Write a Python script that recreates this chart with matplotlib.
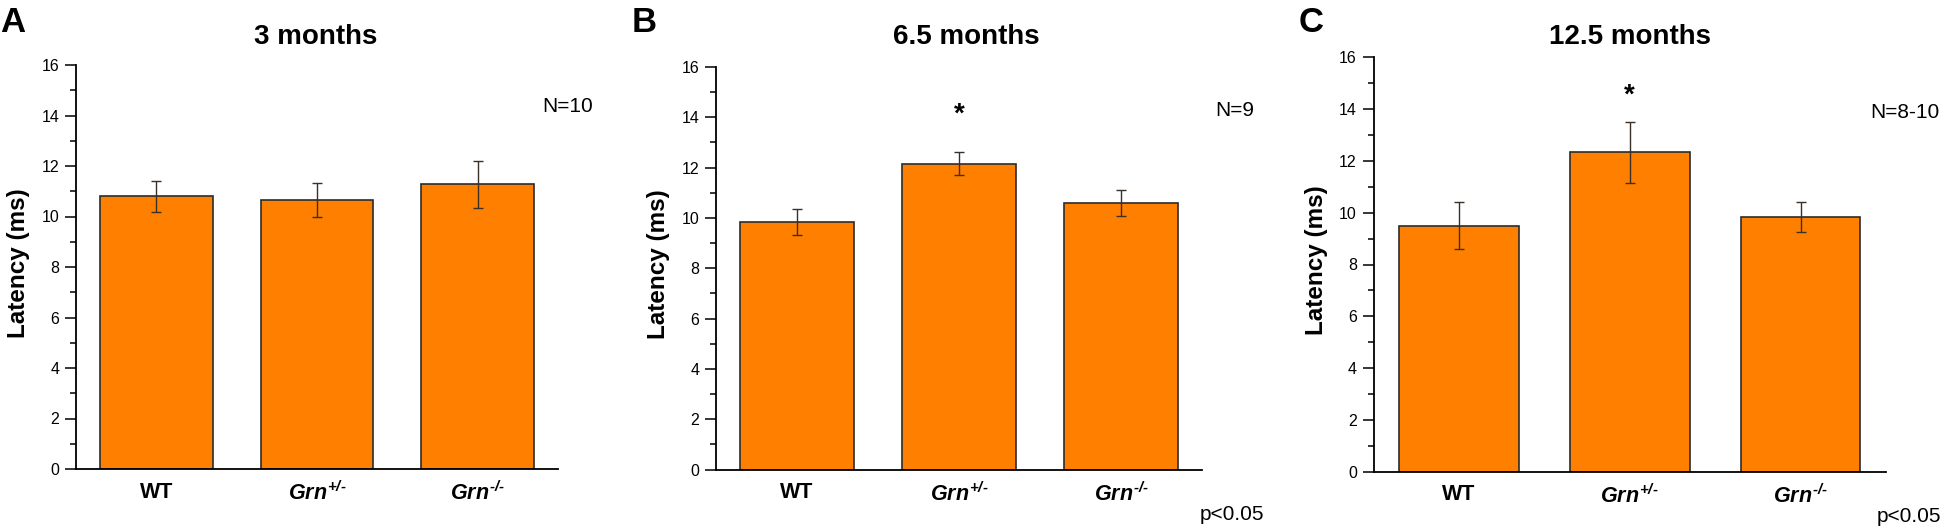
import numpy as np
import matplotlib
matplotlib.use("Agg")
import matplotlib.pyplot as plt

plt.rcParams['font.family'] = ['Liberation Sans', 'DejaVu Sans']
plt.rcParams['mathtext.fontset'] = 'custom'
plt.rcParams['mathtext.it'] = 'Liberation Sans:italic:bold'
plt.rcParams['mathtext.rm'] = 'Liberation Sans:italic:bold'
plt.rcParams['mathtext.bf'] = 'Liberation Sans:bold'

# Dados
groups = ["WT", r"$\mathit{Grn}^{\text{+/-}}$", r"$\mathit{Grn}^{\text{-/-}}$"]
titles = ["3 months", "6.5 months", "12.5 months"]
panel_letters = ["A", "B", "C"]
n_labels = ["N=10", "N=9", "N=8-10"]
has_star = [False, True, True]

means_3m = [10.80, 10.66, 11.27]
err_3m = [0.62, 0.68, 0.92]
means_6m = [9.84, 12.16, 10.60]
err_6m = [0.51, 0.46, 0.53]
means_12m = [9.50, 12.32, 9.84]
err_12m = [0.91, 1.16, 0.57]

W, H = 1946, 532
fig = plt.figure(figsize=(W / 100, H / 100), dpi=100)


def px(x, y):
    return x / W, 1 - y / H


# posições dos eixos em pixels: esquerda, direita, topo, base
boxes = [(76, 558, 65, 469), (716, 1202, 67, 469.5), (1373.5, 1886, 57, 472)]
title_x = [316, 966, 1630]
letter_pos = [(0, 6), (632, 6), (1299, 6)]
ylabel_x = [19, 659, 1317]
n_pos = [(568, 107), (1235, 110), (1905, 112)]
star_y = [None, 14.1, 14.5]
p_pos = [None, (1232, 515), (1909, 517)]

all_means = [means_3m, means_6m, means_12m]
all_errs = [err_3m, err_6m, err_12m]

for i in range(3):
    l, r, t, b = boxes[i]
    ax = fig.add_axes([l / W, 1 - b / H, (r - l) / W, (b - t) / H])
    x = np.arange(1, 4)
    ax.bar(x, all_means[i], width=0.7, color='#FF8000', edgecolor='#2b2b2b',
           linewidth=1.2, zorder=2)
    ax.errorbar(x, all_means[i], yerr=all_errs[i], fmt='none', ecolor='#3a3028',
                elinewidth=1.0, capsize=3.3, capthick=1.0, zorder=3)
    ax.set_xlim(0.5, 3.5)
    ax.set_ylim(0, 16)
    ax.set_yticks(np.arange(0, 17, 2))
    ax.set_yticks(np.arange(1, 16, 2), minor=True)
    ax.tick_params(axis='y', which='major', direction='out', length=8, width=1.1,
                   labelsize=11.5, pad=4)
    ax.tick_params(axis='y', which='minor', direction='out', length=4.5, width=1.1)
    ax.set_xticks(x)
    ax.set_xticklabels(groups, fontsize=15.5, fontweight='bold')
    ax.tick_params(axis='x', length=0, pad=9)
    for s in ['top', 'right']:
        ax.spines[s].set_visible(False)
    for s in ['left', 'bottom']:
        ax.spines[s].set_linewidth(1.3)
    ax.patch.set_alpha(0)

    fx, fy = px(title_x[i], 37)
    fig.text(fx, fy, titles[i], fontsize=20, fontweight='bold', ha='center', va='center')
    fx, fy = px(*letter_pos[i])
    fig.text(fx, fy, panel_letters[i], fontsize=25, fontweight='bold', ha='left', va='top')
    fx, fy = px(ylabel_x[i], (t + b) / 2 - 4)
    fig.text(fx, fy, "Latency (ms)", fontsize=17.5, fontweight='bold', rotation=90,
             ha='center', va='center')
    fx, fy = px(*n_pos[i])
    fig.text(fx, fy, n_labels[i], fontsize=15, ha='center', va='center')
    if has_star[i]:
        ax.text(2, star_y[i], "*", fontsize=20, fontweight='bold', ha='center', va='center')
        fx, fy = px(*p_pos[i])
        fig.text(fx, fy, "p<0.05", fontsize=15, ha='center', va='center')

fig.savefig("out.png", dpi=100)
